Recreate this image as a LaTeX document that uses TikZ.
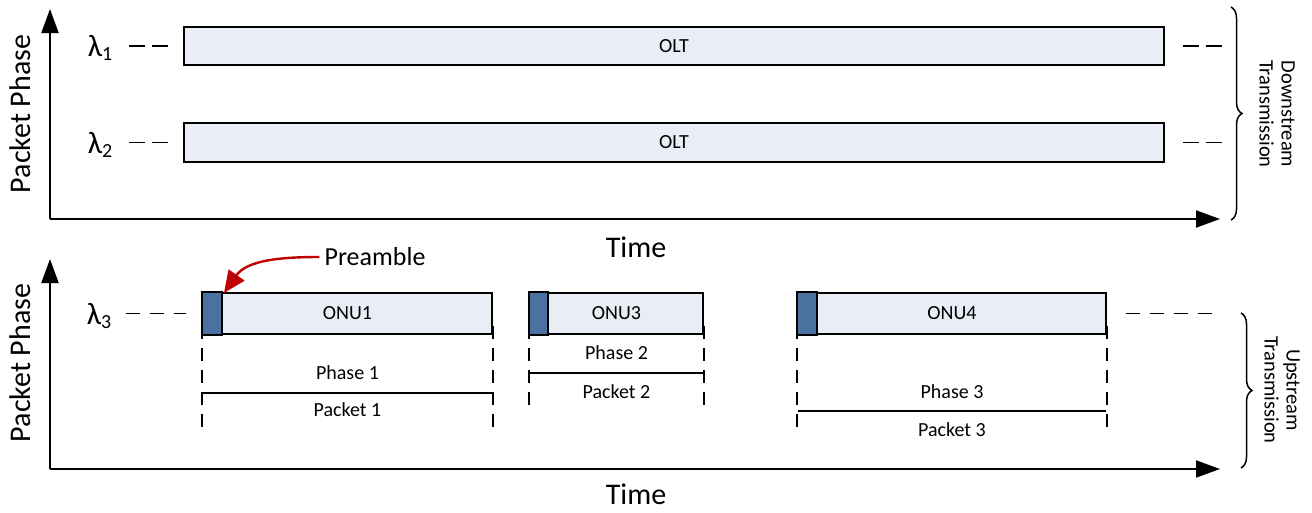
\documentclass[tikz,border=0pt]{standalone}
\usepackage{fontspec}
\setmainfont{Carlito}
\usetikzlibrary{arrows.meta,decorations.pathreplacing}
\definecolor{boxfill}{HTML}{E9EDF5}
\definecolor{prefill}{HTML}{4A71A0}
\definecolor{arrred}{HTML}{C00000}
\newcommand{\fs}[1]{\fontsize{#1}{#1}\selectfont}
\newcommand{\lam}[1]{{\fs{31}λ}{\fs{20}\raisebox{-4pt}{#1}}}
\tikzset{
  axis/.style={line width=2pt,-{Triangle[length=24pt,width=17pt]}},
  slot/.style={draw,line width=2pt,fill=boxfill,inner sep=0pt,font=\fs{20}},
  preblk/.style={draw,line width=2pt,fill=prefill},
  gap/.style={line width=1.8pt,dash pattern=on 16pt off 7pt},
  vdash/.style={line width=1.8pt,dash pattern=on 13pt off 9pt},
  hdash/.style={line width=1.8pt,dash pattern=on 14pt off 10pt},
  sep/.style={line width=1.5pt},
  lbl/.style={font=\fs{20},inner sep=0pt},
  big/.style={font=\fs{30},inner sep=0pt},
  side/.style={font=\fontsize{20.5}{22}\selectfont,align=center,rotate=-90,inner sep=0pt},
  brc/.style={decorate,decoration={brace,amplitude=11pt},line width=1.5pt}
}
\begin{document}
\begin{tikzpicture}[x=1pt,y=-1pt]
\useasboundingbox (0,0) rectangle (1312,512);
% ---------- top panel ----------
\coordinate (o1) at (50,219);
\coordinate (y1) at (50,9);
\coordinate (x1) at (1220,219);
\draw[axis] (o1) -- (y1);
\draw[axis] (o1) -- (x1);
\node[big,rotate=90] (pp1) at (20,114) {Packet Phase};
\node[big] (t1) at (636,247) {Time};
\node[slot,minimum width=980pt,minimum height=38pt] (olt1) at (674,46) {OLT};
\node[slot,minimum width=980pt,minimum height=39pt] (olt2) at (674,142.5) {OLT};
\node[inner sep=0pt] (l1) at (100,48) {\lam{1}};
\node[inner sep=0pt] (l2) at (100,145) {\lam{2}};
\draw[gap] ([xshift=-54pt]olt1.west) -- ([xshift=-15pt]olt1.west);
\draw[gap] ([xshift=-54pt]olt2.west) -- ([xshift=-15pt]olt2.west);
\draw[gap] ([xshift=18pt]olt1.east) -- ([xshift=58pt]olt1.east);
\draw[gap] ([xshift=18pt]olt2.east) -- ([xshift=58pt]olt2.east);
\coordinate (b1t) at (1231,7);
\coordinate (b1b) at (1231,220);
\draw[brc] (b1t) -- (b1b);
\node[side] (ds) at (1277,114) {Downstream\\Transmission};
% ---------- bottom panel ----------
\coordinate (o2) at (50,469);
\coordinate (y2) at (50,259);
\coordinate (x2) at (1220,469);
\draw[axis] (o2) -- (y2);
\draw[axis] (o2) -- (x2);
\node[big,rotate=90] (pp2) at (20,363) {Packet Phase};
\node[big] (t2) at (636,494) {Time};
\node[inner sep=0pt] (l3) at (99,316) {\lam{3}};
\node[slot,minimum width=289pt,minimum height=41pt] (u1) at (347.5,313.5) {ONU1};
\node[slot,minimum width=173pt,minimum height=41pt] (u3) at (616.5,313.5) {ONU3};
\node[slot,minimum width=308pt,minimum height=41pt] (u4) at (952,313.5) {ONU4};
\draw[preblk] (u1.north west) rectangle ([xshift=20pt]u1.south west);
\draw[preblk] (u3.north west) rectangle ([xshift=19pt]u3.south west);
\draw[preblk] (u4.north west) rectangle ([xshift=20pt]u4.south west);
\draw[hdash] ([xshift=-76pt]u1.west) -- ([xshift=-16pt]u1.west);
\draw[hdash] ([xshift=19pt]u4.east) -- ([xshift=106pt]u4.east);
% vertical dashed guides
\draw[vdash] ([yshift=9pt]u1.south west) -- ++(0,107);
\draw[vdash] ([yshift=9pt]u1.south east) -- ++(0,107);
\draw[vdash] ([yshift=9pt]u3.south west) -- ++(0,84);
\draw[vdash] ([yshift=9pt]u3.south east) -- ++(0,84);
\draw[vdash] ([yshift=9pt]u4.south west) -- ++(0,107);
\draw[vdash] ([yshift=9pt]u4.south east) -- ++(0,107);
% phase separators
\coordinate (s1a) at (203,393); \coordinate (s1b) at (492,393);
\coordinate (s2a) at (530,373); \coordinate (s2b) at (703,373);
\coordinate (s3a) at (798,411); \coordinate (s3b) at (1106,411);
\draw[sep] (s1a) -- (s1b);
\draw[sep] (s2a) -- (s2b);
\draw[sep] (s3a) -- (s3b);
\node[lbl] (ph1) at (347.5,373) {Phase 1};
\node[lbl] (pk1) at (347.5,410) {Packet 1};
\node[lbl] (ph2) at (616.5,353) {Phase 2};
\node[lbl] (pk2) at (616.5,392) {Packet 2};
\node[lbl] (ph3) at (952,392) {Phase 3};
\node[lbl] (pk3) at (952,430) {Packet 3};
% preamble callout
\node[font=\fs{26},inner sep=0pt] (pre) at (375,257) {Preamble};
\draw[arrred,line width=2.4pt,-{Triangle[length=22pt,width=19pt]}] ([xshift=-5pt]pre.west) to[out=180,in=55] ([xshift=22pt,yshift=-1pt]u1.north west);
\coordinate (b2t) at (1241,313);
\coordinate (b2b) at (1241,468);
\draw[brc] (b2t) -- (b2b);
\node[side] (us) at (1282,390) {Upstream\\Transmission};
\end{tikzpicture}
\end{document}
